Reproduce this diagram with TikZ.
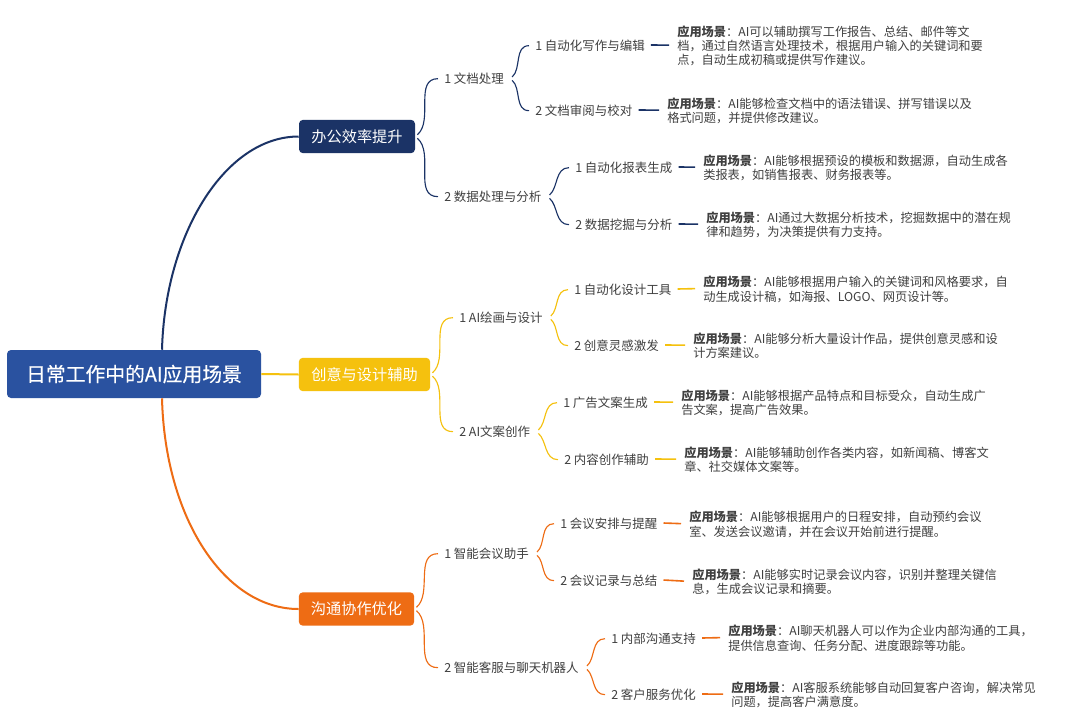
\documentclass[tikz,border=0pt]{standalone}
\usepackage{fontspec}
\setmainfont{Noto Sans CJK SC}
\newfontfamily\rootfont[FakeBold=0.35]{Noto Sans CJK SC}
\usetikzlibrary{calc}
\definecolor{rootc}{HTML}{2A52A0}
\definecolor{navy}{HTML}{1B3366}
\definecolor{gold}{HTML}{F5C10E}
\definecolor{orng}{HTML}{EE6C14}
\definecolor{txt}{HTML}{404040}
\newcommand{\yj}{\textbf{应用场景}：}
\tikzset{
  rootbox/.style={fill=rootc,rounded corners=3pt,text=white,inner sep=0pt,minimum width=190.5pt,minimum height=36pt,font=\rootfont\fontsize{14.85pt}{16pt}\selectfont},
  branch/.style={rounded corners=3pt,text=white,inner sep=0pt,minimum height=25pt,font=\fontsize{11.4pt}{13pt}\selectfont},
  lab/.style={anchor=west,inner xsep=4.5pt,inner ysep=0pt,yshift=-0.5pt,text=txt,font=\fontsize{9.35pt}{11pt}\selectfont},
  desc/.style={anchor=west,align=left,inner xsep=6pt,inner ysep=0pt,yshift=-0.6pt,text=txt,font=\fontsize{9.17pt}{10.7pt}\selectfont},
  tick/.style={line width=1.2pt},
  braceu/.style={line width=0.85pt,out=40,in=180,looseness=1,shorten <=2pt},
  braced/.style={line width=0.85pt,out=-40,in=180,looseness=1,shorten <=2pt},
}
\begin{document}
\begin{tikzpicture}[x=0.75pt,y=-0.75pt]
\useasboundingbox[fill=white] (0,0) rectangle (1080,725);

\node[rootbox] (root) at (134,374) {日常工作中的AI应用场景};
\node[branch,fill=navy,minimum width=87pt] (b1) at (357,136.5) {办公效率提升};
\node[branch,fill=gold,minimum width=98.5pt] (b2) at (364.5,374.5) {创意与设计辅助};
\node[branch,fill=orng,minimum width=86.5pt] (b3) at (356.5,609) {沟通协作优化};

% level 2
\node[lab] (a1) at (438,78) {1 文档处理};
\node[lab] (a2) at (438,196) {2 数据处理与分析};
\node[lab] (c1) at (453,317) {1 AI绘画与设计};
\node[lab] (c2) at (453,431) {2 AI文案创作};
\node[lab] (e1) at (438,553) {1 智能会议助手};
\node[lab] (e2) at (438,667) {2 智能客服与聊天机器人};

% level 3
\node[lab] (a11) at (529,45) {1 自动化写作与编辑};
\node[lab] (a12) at (529,110) {2 文档审阅与校对};
\node[lab] (a21) at (569,167) {1 自动化报表生成};
\node[lab] (a22) at (569,224) {2 数据挖掘与分析};
\node[lab] (c11) at (568,289) {1 自动化设计工具};
\node[lab] (c12) at (568,345) {2 创意灵感激发};
\node[lab] (c21) at (557,402) {1 广告文案生成};
\node[lab] (c22) at (558,459) {2 内容创作辅助};
\node[lab] (e11) at (554,523) {1 会议安排与提醒};
\node[lab] (e12) at (554,580) {2 会议记录与总结};
\node[lab] (e21) at (605,638) {1 内部沟通支持};
\node[lab] (e22) at (605,694) {2 客户服务优化};

% descriptions
\node[desc] (a11d) at (669,45) {\yj AI可以辅助撰写工作报告、总结、邮件等文\\档，通过自然语言处理技术，根据用户输入的关键词和要\\点，自动生成初稿或提供写作建议。};
\node[desc] (a12d) at (659,110) {\yj AI能够检查文档中的语法错误、拼写错误以及\\格式问题，并提供修改建议。};
\node[desc] (a21d) at (695,167) {\yj AI能够根据预设的模板和数据源，自动生成各\\类报表，如销售报表、财务报表等。};
\node[desc] (a22d) at (698,224) {\yj AI通过大数据分析技术，挖掘数据中的潜在规\\律和趋势，为决策提供有力支持。};
\node[desc] (c11d) at (695,288.5) {\yj AI能够根据用户输入的关键词和风格要求，自\\动生成设计稿，如海报、LOGO、网页设计等。};
\node[desc] (c12d) at (685,345) {\yj AI能够分析大量设计作品，提供创意灵感和设\\计方案建议。};
\node[desc] (c21d) at (673,402) {\yj AI能够根据产品特点和目标受众，自动生成广\\告文案，提高广告效果。};
\node[desc] (c22d) at (676,459) {\yj AI能够辅助创作各类内容，如新闻稿、博客文\\章、社交媒体文案等。};
\node[desc] (e11d) at (681,523.5) {\yj AI能够根据用户的日程安排，自动预约会议\\室、发送会议邀请，并在会议开始前进行提醒。};
\node[desc] (e12d) at (684,581) {\yj AI能够实时记录会议内容，识别并整理关键信\\息，生成会议记录和摘要。};
\node[desc] (e21d) at (720,637.5) {\yj AI聊天机器人可以作为企业内部沟通的工具，\\提供信息查询、任务分配、进度跟踪等功能。};
\node[desc] (e22d) at (723,694) {\yj AI客服系统能够自动回复客户咨询，解决常见\\问题，提高客户满意度。};

% main connectors
\draw[navy,line width=1.5pt] ([xshift=21pt]root.north) .. controls +(3,-115) and +(-74,0) .. (b1.west);
\draw[orng,line width=1.5pt] ([xshift=21pt]root.south) .. controls +(3,120) and +(-74,0) .. (b3.west);
\draw[gold,line width=1.5pt] (root.east) -- (b2.west);

% navy
\begin{scope}[navy]
\draw[braceu] (b1.east) to (a1.west);
\draw[braced] (b1.east) to (a2.west);
\draw[braceu] (a1.east) to (a11.west);
\draw[braced] (a1.east) to (a12.west);
\draw[braceu] (a2.east) to (a21.west);
\draw[braced] (a2.east) to (a22.west);
\foreach \n in {a11,a12,a21,a22} \draw[tick] ([yshift=0.5pt]\n.east) -- ([yshift=0.5pt]\n d.west);
\end{scope}
% gold
\begin{scope}[gold]
\draw[braceu] (b2.east) to (c1.west);
\draw[braced] (b2.east) to (c2.west);
\draw[braceu] (c1.east) to (c11.west);
\draw[braced] (c1.east) to (c12.west);
\draw[braceu] (c2.east) to (c21.west);
\draw[braced] (c2.east) to (c22.west);
\foreach \n in {c11,c12,c21,c22} \draw[tick] ([yshift=0.5pt]\n.east) -- ([yshift=0.5pt]\n d.west);
\end{scope}
% orange
\begin{scope}[orng]
\draw[braceu] (b3.east) to (e1.west);
\draw[braced] (b3.east) to (e2.west);
\draw[braceu] (e1.east) to (e11.west);
\draw[braced] (e1.east) to (e12.west);
\draw[braceu] (e2.east) to (e21.west);
\draw[braced] (e2.east) to (e22.west);
\foreach \n in {e11,e12,e21,e22} \draw[tick] ([yshift=0.5pt]\n.east) -- ([yshift=0.5pt]\n d.west);
\end{scope}
\end{tikzpicture}
\end{document}
